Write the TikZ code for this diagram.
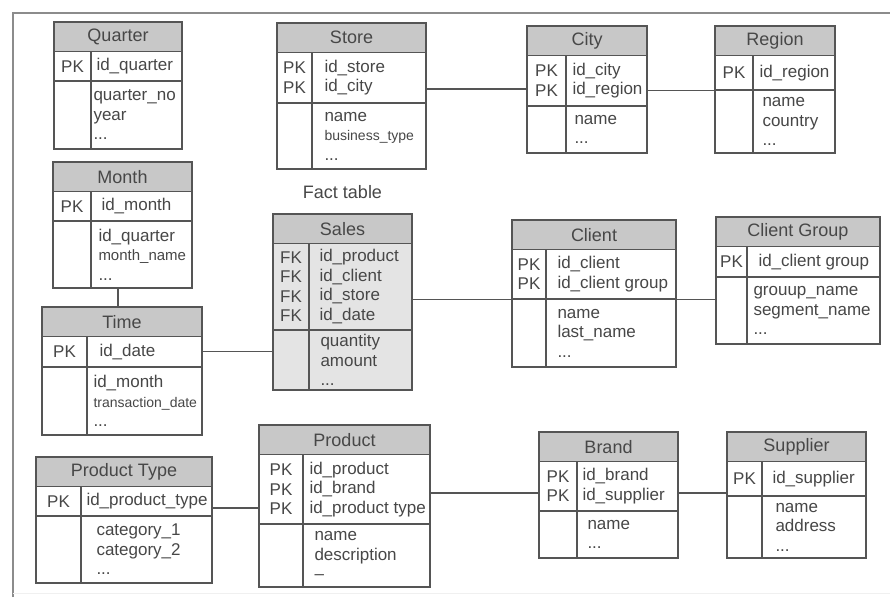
\documentclass[tikz,border=0pt]{standalone}
\usepackage{fontspec}
\setmainfont{Liberation Sans}
\usepackage{tikz}
\usetikzlibrary{positioning,fit,calc}
\definecolor{erLine}{HTML}{555555}
\definecolor{erHead}{HTML}{C8C8C8}
\definecolor{erFact}{HTML}{E4E4E4}
\definecolor{erText}{HTML}{474747}
\definecolor{erFrame}{HTML}{8C8C8C}

\tikzset{
  tabhead/.style={draw=erLine, fill=erHead, line width=1.4pt, inner sep=0pt},
  tabtitle/.style={inner sep=0pt, text=erText, font=\fontsize{18}{20}\selectfont},
  tabbody/.style={draw=erLine, fill=white, line width=1.4pt, inner sep=0pt},
  keys/.style={inner sep=0pt, align=center, text=erText,
    font=\fontsize{17}{19.5}\selectfont},
  fields/.style={anchor=west, inner sep=0pt, align=left, xshift=#1, text=erText,
    font=\fontsize{17}{19.5}\selectfont},
  fields/.default=8pt,
  link/.style={draw=erLine, line width=1.3pt},
}

% table: name, left, top, right, divider, key bottom, bottom, title
\newcommand{\erdtable}[8]{%
  \node[tabhead, fit={(#2,#3) (#4,#3+29.5)}] (#1) {};
  \node[tabtitle] (#1-t) at ($(#2,#3)!.5!(#4,#3+29.5)$) {#8};
  \node[tabbody, fit={(#2,#3+29.5) (#5,#6)}] (#1-pk) {};
  \node[tabbody, fit={(#5,#3+29.5) (#4,#6)}] (#1-id) {};
  \node[tabbody, fit={(#2,#6) (#5,#7)}] (#1-x) {};
  \node[tabbody, fit={(#5,#6) (#4,#7)}] (#1-at) {};
}
\newcommand{\narrowtxt}[1]{{\fontsize{14}{19.5}\selectfont #1}}

\begin{document}
\begin{tikzpicture}[x=1pt, y=-1pt]
  \useasboundingbox (0,0) rectangle (890,597);
  \draw[erFrame, line width=2pt] (13,597) -- (13,13) -- (890,13);
  \draw[gray!12, line width=1pt] (13,593) -- (890,593);

  % dimensions
  \erdtable{quarter}{54}{22}{182}{91}{81}{149}{Quarter}
  \node[keys] (quarter-k) at (quarter-pk) {PK};
  \node[fields=6] (quarter-f) at (quarter-id.west) {id\_quarter};
  \node[fields=3] (quarter-a) at (quarter-at.west) {quarter\_no\\year\\...};

  \erdtable{store}{277}{23}{426}{312}{103}{169}{Store}
  \node[keys] (store-k) at (store-pk) {PK\\PK};
  \node[fields=13] (store-f) at (store-id.west) {id\_store\\id\_city};
  \node[fields=13] (store-a) at (store-at.west) {name\\\narrowtxt{business\_type}\\...};

  \erdtable{city}{527}{26}{647}{566}{106}{153}{City}
  \node[keys] (city-k) at (city-pk) {PK\\PK};
  \node[fields=7] (city-f) at (city-id.west) {id\_city\\id\_region};
  \node[fields=9] (city-a) at (city-at.west) {name\\...};

  \erdtable{region}{715}{26}{835}{753}{90}{153}{Region}
  \node[keys] (region-k) at (region-pk) {PK};
  \node[fields=7] (region-f) at (region-id.west) {id\_region};
  \node[fields=10] (region-a) at (region-at.west) {name\\country\\...};

  \erdtable{month}{53}{162}{192}{91}{221}{288}{Month}
  \node[keys] (month-k) at (month-pk) {PK};
  \node[fields=11] (month-f) at (month-id.west) {id\_month};
  \node[fields=8] (month-a) at (month-at.west) {id\_quarter\\{\fontsize{15}{19.5}\selectfont month\_name}\\...};

  \erdtable{time}{42}{307}{202}{87}{367}{435}{Time}
  \node[keys] (time-k) at (time-pk) {PK};
  \node[fields=13] (time-f) at (time-id.west) {id\_date};
  \node[fields=7] (time-a) at (time-at.west) {id\_month\\\narrowtxt{transaction\_date}\\...};

  % fact table
  \begin{scope}[tabbody/.append style={fill=erFact}]
    \erdtable{sales}{273}{214}{412}{309}{330}{390}{Sales}
  \end{scope}
  \node[keys] (sales-k) at (sales-pk) {FK\\FK\\FK\\FK};
  \node[fields=11] (sales-f) at (sales-id.west) {id\_product\\id\_client\\id\_store\\id\_date};
  \node[fields=12] (sales-a) at (sales-at.west) {quantity\\amount\\...};
  \node[tabtitle] (factlabel) at ($(sales.north)+(0,-21)$) {Fact table};

  \erdtable{client}{512}{220}{676}{546}{299}{367}{Client}
  \node[keys] (client-k) at (client-pk) {PK\\PK};
  \node[fields=12] (client-f) at (client-id.west) {id\_client\\id\_client group};
  \node[fields=12] (client-a) at (client-at.west) {name\\last\_name\\...};

  \erdtable{cgroup}{716}{217}{880}{747}{277}{344}{Client Group}
  \node[keys] (cgroup-k) at (cgroup-pk) {PK};
  \node[fields=12] (cgroup-f) at (cgroup-id.west) {id\_client group};
  \node[fields=7] (cgroup-a) at (cgroup-at.west) {grouup\_name\\segment\_name\\...};

  \erdtable{ptype}{36}{457}{212}{81}{516}{583}{Product Type}
  \node[keys] (ptype-k) at (ptype-pk) {PK};
  \node[fields=6] (ptype-f) at (ptype-id.west) {id\_product\_type};
  \node[fields=16] (ptype-a) at (ptype-at.west) {category\_1\\category\_2\\...};

  \erdtable{product}{259}{425}{430}{303}{524}{587}{Product}
  \node[keys] (product-k) at (product-pk) {PK\\PK\\PK};
  \node[fields=7] (product-f) at (product-id.west) {id\_product\\id\_brand\\id\_product type};
  \node[fields=12] (product-a) at (product-at.west) {name\\description\\–};

  \erdtable{brand}{539}{432}{678}{577}{511}{558}{Brand}
  \node[keys] (brand-k) at (brand-pk) {PK\\PK};
  \node[fields=6] (brand-f) at (brand-id.west) {id\_brand\\id\_supplier};
  \node[fields=11] (brand-a) at (brand-at.west) {name\\...};

  \erdtable{supplier}{727}{432}{866}{762}{496}{558}{Supplier}
  \node[keys] (supplier-k) at (supplier-pk) {PK};
  \node[fields=11] (supplier-f) at (supplier-id.west) {id\_supplier};
  \node[fields=14] (supplier-a) at (supplier-at.west) {name\\address\\...};

  % links
  \coordinate (storelink) at (0,89);
  \coordinate (timelink) at (118,0);
  \coordinate (typelink) at (0,508);
  \coordinate (brandlink) at (0,493);
  \draw[link] (store-id.east |- storelink) -- (city-pk.west |- storelink);
  \draw[link] (city-id.east |- region-pk.south west) -- (region-pk.south west);
  \draw[link] (month-at.south -| timelink) -- (time.north -| timelink);
  \draw[link] (time-id.east) -- (sales-pk.west |- time-id.east);
  \draw[link] (sales-id.east |- client-pk.south west) -- (client-pk.south west);
  \draw[link] (client-id.south east) -- (cgroup-x.west |- client-id.south east);
  \draw[link] (ptype-id.east |- typelink) -- (product-pk.west |- typelink);
  \draw[link] (product-id.east |- brandlink) -- (brand-pk.west |- brandlink);
  \draw[link] (brand-id.east |- brandlink) -- (supplier-pk.west |- brandlink);
\end{tikzpicture}
\end{document}
